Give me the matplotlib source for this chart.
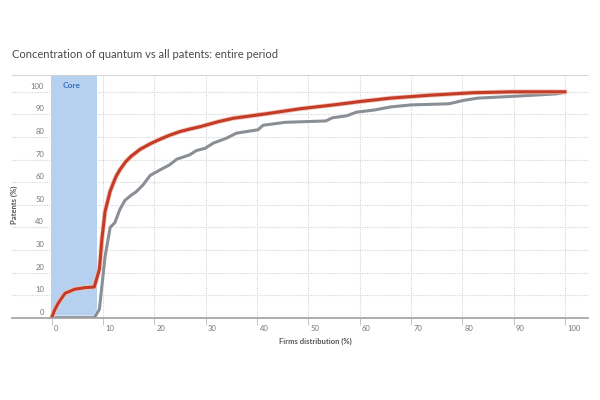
import numpy as np
import matplotlib
matplotlib.use("Agg")
import matplotlib.pyplot as plt
import matplotlib.patheffects as pe
from matplotlib.transforms import ScaledTranslation

plt.rcParams['font.family'] = ['Lato', 'DejaVu Sans']

# quantum patents (red) - cumulative share vs firms distribution
quantum_x = [0, 0.6, 1.3, 2.6, 4.5, 6.5, 8.3, 9.3, 9.8, 10.4, 11.4, 12.0, 12.6,
             13.3, 14.4, 15.5, 17.2, 19.2, 21.1, 23.0, 25.0, 26.9, 29.0, 32.5,
             35.4, 41.9, 48.4, 54.9, 60.1, 66.0, 73.7, 82.1, 90.0, 100.0]
quantum_y = [0, 3.5, 6.5, 10.8, 12.6, 13.3, 13.6, 21.5, 35, 47, 56, 59.5, 62.8,
             65.5, 69, 71.5, 74.5, 77, 79, 80.8, 82.4, 83.5, 84.6, 86.8,
             88.3, 90.3, 92.5, 94.2, 95.7, 97.2, 98.5, 99.6, 100, 100]

# all patents (grey)
all_x = [0, 8.3, 9.3, 10.4, 11.4, 12.3, 13.3, 14.3, 15.6, 16.5, 17.8, 19.2,
         21.1, 23.0, 24.4, 26.9, 28.2, 29.9, 31.5, 34.1, 36.0, 40.2, 41.2,
         45.5, 53.4, 54.7, 57.5, 59.4, 63.0, 66.0, 70.0, 77.4, 80.2, 83.0,
         89.9, 98.4, 100.0]
all_y = [0, 0, 3.7, 27, 40, 42, 48, 52, 54.4, 55.8, 58.8, 63, 65.4, 67.7,
         70.2, 72.1, 74, 75, 77.3, 79.5, 81.7, 83.2, 85.2, 86.5, 87.1, 88.5,
         89.4, 91, 92, 93.3, 94.2, 94.7, 96.2, 97.2, 98, 99.1, 99.7]

core_range = (-0.2, 8.8)
xticks = list(range(0, 101, 10))
yticks = list(range(0, 101, 10))

fig = plt.figure(figsize=(6, 4), dpi=100)
ax = fig.add_axes([0.02, 0.2058, 0.96, 0.607])
ax.set_xlim(-7.73, 104.5)
ax.set_ylim(0, 107.5)

grid_c = '#d2d2d2'
ax.axvspan(*core_range, color='#b5d1ef', zorder=1, lw=0)
ax.text(3.95, 102.7, 'Core', color='#3a6fc0', fontsize=6, ha='center',
        va='center', fontweight='bold', zorder=3)

for y in yticks[1:]:
    ax.axhline(y, color=grid_c, lw=0.8, ls=(0, (1, 1.2)), zorder=0)
for x in xticks:
    ax.axvline(x, color=grid_c, lw=0.8, ls=(0, (1, 1.2)), zorder=0)

ax.plot(all_x, all_y, color='#8a8f95', lw=2.2, zorder=4,
        solid_joinstyle='round',
        path_effects=[pe.Stroke(linewidth=3.4, foreground='white', alpha=0.6), pe.Normal()])
ax.plot(quantum_x, quantum_y, color='#c43b26', lw=2.2, zorder=5,
        solid_joinstyle='round',
        path_effects=[pe.Stroke(linewidth=3.4, foreground='#efc4ba'), pe.Normal()])

for s in ['left', 'right']:
    ax.spines[s].set_visible(False)
ax.spines['top'].set_color(grid_c)
ax.spines['top'].set_linestyle((0, (1, 1.2)))
ax.spines['top'].set_linewidth(0.8)
ax.spines['bottom'].set_color('#a0a0a0')
ax.spines['bottom'].set_linewidth(1.2)
ax.spines['bottom'].set_zorder(6)

ax.set_xticks(xticks)
ax.set_yticks(yticks)
ax.tick_params(axis='x', length=5, width=0.6, color='#bbbbbb', pad=0.5,
               labelsize=5.5, labelcolor='#777777')
ax.tick_params(axis='y', length=0, pad=-23, labelsize=5.5, labelcolor='#777777')

for lab in ax.get_xticklabels():
    lab.set_ha('left')
    lab.set_transform(lab.get_transform() + ScaledTranslation(2.5 / 100, 0, fig.dpi_scale_trans))
for lab in ax.get_yticklabels():
    lab.set_va('bottom')
    lab.set_transform(lab.get_transform() + ScaledTranslation(0, 2 / 100, fig.dpi_scale_trans))

ax.set_xlabel('Firms distribution (%)', fontsize=5.5, color='#555555', fontweight='bold')
ax.xaxis.set_label_coords(0.526, -0.084)
ax.set_ylabel('Patents (%)', fontsize=5.5, color='#555555', fontweight='bold')
ax.yaxis.set_label_coords(0.011, 0.464)

fig.text(0.02, 0.8625, 'Concentration of quantum vs all patents: entire period',
         fontsize=8, color='#4a4a4a', va='center', ha='left')

fig.savefig('out.png', dpi=100, facecolor='white')
